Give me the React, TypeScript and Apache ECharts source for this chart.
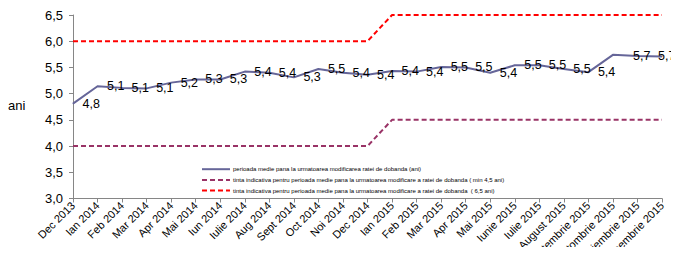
import React, { useEffect, useRef } from "react";
import * as echarts from "echarts";

const categories = [
  "Dec 2013", "Ian 2014", "Feb 2014", "Mar 2014", "Apr 2014", "Mai 2014", "Iun 2014",
  "Iulie 2014", "Aug 2014", "Sept 2014", "Oct 2014", "Noi 2014", "Dec 2014",
  "Ian 2015", "Feb 2015", "Mar 2015", "Apr 2015", "Mai 2015", "Iunie 2015",
  "Iulie 2015", "August 2015", "Septembrie 2015", "Octombrie 2015", "Noiembrie 2015", "Decembrie 2015",
];

const perioadaMedie = [
  4.81, 5.14, 5.11, 5.1, 5.21, 5.27, 5.27, 5.42, 5.4, 5.31, 5.47, 5.4, 5.36,
  5.43, 5.42, 5.51, 5.5, 5.4, 5.54, 5.54, 5.47, 5.41, 5.74, 5.72, 5.71,
];

const tintaMin = [
  4, 4, 4, 4, 4, 4, 4, 4, 4, 4, 4, 4, 4,
  4.5, 4.5, 4.5, 4.5, 4.5, 4.5, 4.5, 4.5, 4.5, 4.5, 4.5, 4.5,
];

const tintaMax = [
  6, 6, 6, 6, 6, 6, 6, 6, 6, 6, 6, 6, 6,
  6.5, 6.5, 6.5, 6.5, 6.5, 6.5, 6.5, 6.5, 6.5, 6.5, 6.5, 6.5,
];

const seriesNames = [
  "perioada medie pana la urmatoarea modificarea ratei de dobanda (ani)",
  "tinta indicativa pentru perioada medie pana la urmatoarea modificare a ratei de dobanda ( min 4,5 ani)",
  "tinta indicativa pentru perioada medie pana la urmatoarea modificare a ratei de dobanda  ( 6,5 ani)",
];

const yAxisName = "ani";

const FONT = "'Liberation Sans', Arial, sans-serif";

export default function App() {
  const ref = useRef<HTMLDivElement>(null);

  useEffect(() => {
    if (!ref.current) return;
    const chart = echarts.init(ref.current, undefined, { renderer: "svg" });

    const n = perioadaMedie.length;
    const mainData = perioadaMedie.map((v, i) => {
      if (i === n - 3) return { value: v, label: { show: false } };
      if (i === n - 2)
        return {
          value: v,
          label: { position: [-4, 0.5], align: "left", verticalAlign: "middle" },
        };
      if (i === n - 1)
        return {
          value: v,
          label: { position: [14, 0.5], align: "right", verticalAlign: "middle" },
        };
      return v;
    });

    chart.setOption({
      animation: false,
      textStyle: { fontFamily: FONT },
      grid: {
        left: 73,
        right: 17,
        top: 15,
        bottom: 56.5,
        containLabel: false,
        outerBoundsMode: "none",
      },
      xAxis: {
        type: "category",
        data: categories,
        boundaryGap: false,
        axisLine: { lineStyle: { color: "#868686", width: 1 } },
        axisTick: { show: true, length: 4, lineStyle: { color: "#868686" } },
        axisLabel: {
          interval: 0,
          rotate: 45,
          fontSize: 11,
          color: "#000",
          margin: 5,
          fontFamily: FONT,
          hideOverlap: false,
        },
        splitLine: { show: false },
      },
      yAxis: {
        type: "value",
        min: 3,
        max: 6.5,
        interval: 0.5,
        axisLine: { show: true, lineStyle: { color: "#868686", width: 1 } },
        axisTick: { show: true, length: 4, lineStyle: { color: "#868686" } },
        axisLabel: {
          fontSize: 13,
          color: "#000",
          margin: 10,
          fontFamily: FONT,
          formatter: (v: number) => v.toFixed(1).replace(".", ","),
        },
        splitLine: { show: false },
      },
      legend: {
        orient: "vertical",
        left: 196,
        top: 161,
        itemWidth: 28,
        itemHeight: 8,
        itemGap: 4.3,
        itemStyle: { opacity: 0 },
        textStyle: { fontSize: 6, color: "#000", fontFamily: FONT, padding: [0, 0, 0, -2] },
        data: seriesNames,
      },
      graphic: [
        {
          type: "text",
          left: 8,
          top: 99,
          style: { text: yAxisName, fontSize: 13, fill: "#000", fontFamily: FONT },
        },
      ],
      series: [
        {
          name: seriesNames[0],
          type: "line",
          data: mainData,
          color: "#666699",
          symbol: "circle",
          symbolSize: 1,
          showSymbol: true,
          lineStyle: { color: "#666699", width: 2 },
          itemStyle: { color: "#666699" },
          label: {
            show: true,
            position: "right",
            distance: 9,
            fontSize: 12.5,
            color: "#000",
            fontFamily: FONT,
            formatter: (p: any) => Number(p.value).toFixed(1).replace(".", ","),
          },
          z: 3,
        },
        {
          name: seriesNames[1],
          type: "line",
          data: tintaMin,
          color: "#993366",
          symbol: "none",
          lineStyle: { color: "#993366", width: 2, type: [5, 3] },
          itemStyle: { color: "#993366" },
          z: 2,
        },
        {
          name: seriesNames[2],
          type: "line",
          data: tintaMax,
          color: "#FF0000",
          symbol: "none",
          lineStyle: { color: "#FF0000", width: 2, type: [5, 3] },
          itemStyle: { color: "#FF0000" },
          z: 2,
        },
      ],
    });

    return () => chart.dispose();
  }, []);

  return <div ref={ref} style={{ width: 679, height: 255, margin: -8 }} />;
}
